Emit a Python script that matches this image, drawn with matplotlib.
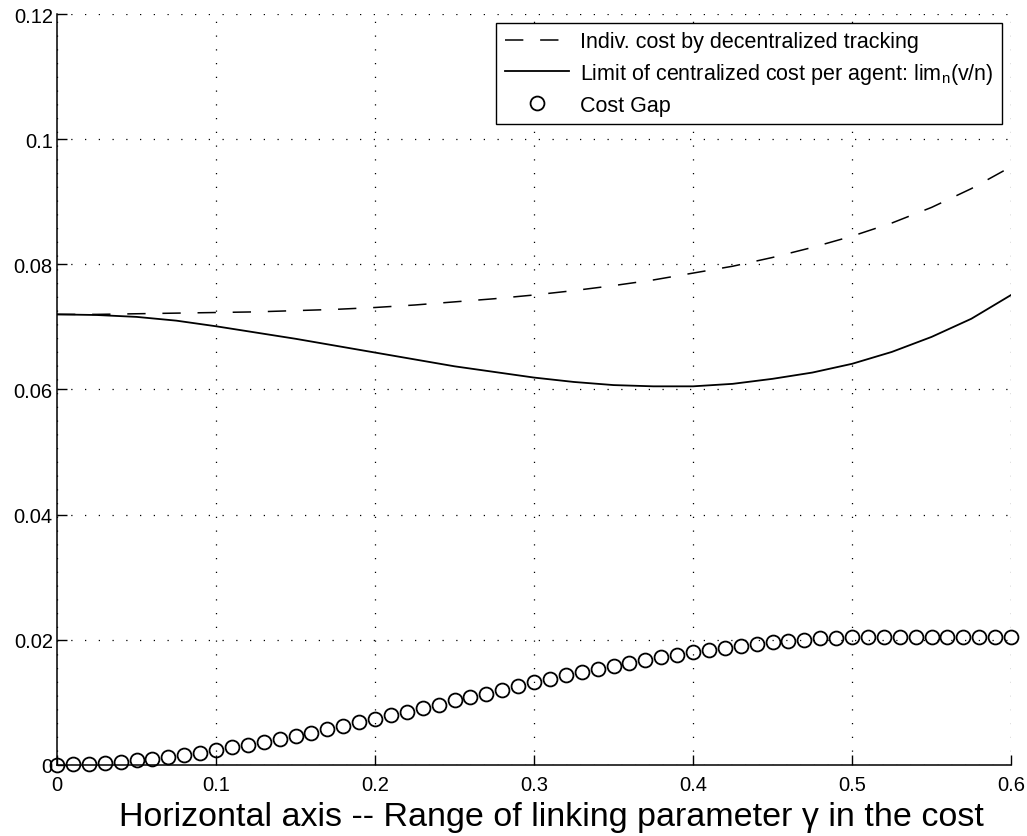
import numpy as np
import matplotlib
matplotlib.use("Agg")
import matplotlib.pyplot as plt

plt.rcParams.update({
    "font.family": ["Liberation Sans", "DejaVu Sans"],
    "mathtext.fontset": "custom",
    "mathtext.rm": "Liberation Sans",
    "mathtext.it": "Liberation Sans:italic",
    "xtick.direction": "in",
    "ytick.direction": "in",
})

# curves, every 0.025 in gamma
gamma_line = np.arange(25) * 0.025
cost_decentral = [0.0720, 0.0720, 0.0721, 0.0722, 0.0723, 0.0724, 0.0726, 0.0728,
                  0.0731, 0.0735, 0.0740, 0.0745, 0.0751, 0.0758, 0.0766, 0.0775,
                  0.0786, 0.0797, 0.0811, 0.0827, 0.0845, 0.0866, 0.0891, 0.0921,
                  0.0956]
cost_central = [0.0720, 0.0719, 0.0716, 0.0710, 0.0701, 0.0691, 0.0681, 0.0670,
                0.0659, 0.0648, 0.0637, 0.0628, 0.0619, 0.0612, 0.0607, 0.0605,
                0.0605, 0.0609, 0.0617, 0.0627, 0.0641, 0.0660, 0.0684, 0.0713,
                0.0751]

# cost gap circles, every 0.01 in gamma
gamma_gap = np.arange(61) * 0.01
cost_gap = [0.0000, 0.0001, 0.0002, 0.0003, 0.0005, 0.0007, 0.0009, 0.0013, 0.0016,
            0.0019, 0.0023, 0.0028, 0.0032, 0.0036, 0.0042, 0.0046, 0.0051, 0.0057,
            0.0062, 0.0068, 0.0073, 0.0080, 0.0085, 0.0091, 0.0096, 0.0103, 0.0109,
            0.0114, 0.0120, 0.0126, 0.0132, 0.0137, 0.0143, 0.0148, 0.0153, 0.0158,
            0.0163, 0.0167, 0.0172, 0.0176, 0.0180, 0.0183, 0.0187, 0.0190, 0.0193,
            0.0196, 0.0198, 0.0200, 0.0202, 0.0203, 0.0204, 0.0204, 0.0205, 0.0205,
            0.0205, 0.0205, 0.0205, 0.0205, 0.0204, 0.0204, 0.0204]

x_ticks = [0, 0.1, 0.2, 0.3, 0.4, 0.5, 0.6]
x_ticklabels = ["0", "0.1", "0.2", "0.3", "0.4", "0.5", "0.6"]
y_ticks = [0, 0.02, 0.04, 0.06, 0.08, 0.1, 0.12]
y_ticklabels = ["0", "0.02", "0.04", "0.06", "0.08", "0.1", "0.12"]

fig = plt.figure(figsize=(10.27, 8.37), dpi=100)
ax = fig.add_axes([0.0555, 0.085, 0.929, 0.897])

ax.plot(gamma_line, cost_decentral, color="black", linewidth=1.1,
        linestyle=(0, (12, 11)), label="Indiv. cost by decentralized tracking")
ax.plot(gamma_line, cost_central, color="black", linewidth=1.3,
        label="Limit of centralized cost per agent: lim$_\\mathrm{n}$(v/n)")
ax.plot(gamma_gap, cost_gap, linestyle="none", marker="o", markersize=10,
        markerfacecolor="none", markeredgecolor="black", markeredgewidth=1.3,
        label="Cost Gap", clip_on=False)

ax.set_xlim(0, 0.6)
ax.set_ylim(0, 0.12)
ax.set_xticks(x_ticks)
ax.set_xticklabels(x_ticklabels)
ax.set_yticks(y_ticks)
ax.set_yticklabels(y_ticklabels)
ax.tick_params(labelsize=14.5, length=7, width=1)
ax.tick_params(axis="x", pad=7)
ax.tick_params(axis="y", pad=3)

ax.grid(True, color="black", linestyle=(0, (1, 10)), linewidth=0.9)
ax.spines["top"].set_visible(False)
ax.spines["right"].set_visible(False)
ax.spines["left"].set_linewidth(1.1)
ax.spines["bottom"].set_linewidth(1.1)

ax.set_xlabel("Horizontal axis -- Range of linking parameter \u03b3 in the cost",
              fontsize=24.5)
ax.xaxis.set_label_coords(0.518, -0.048, transform=ax.transAxes)
ax.xaxis.label.set_va("top")

leg = ax.legend(loc="upper right", fontsize=15.5, numpoints=1, handlelength=3.0,
                fancybox=False, framealpha=1, edgecolor="black",
                borderaxespad=0.4, labelspacing=0.4, handletextpad=0.5,
                borderpad=0.4)
leg.get_frame().set_linewidth(1.0)

fig.savefig("out.png", dpi=100)
